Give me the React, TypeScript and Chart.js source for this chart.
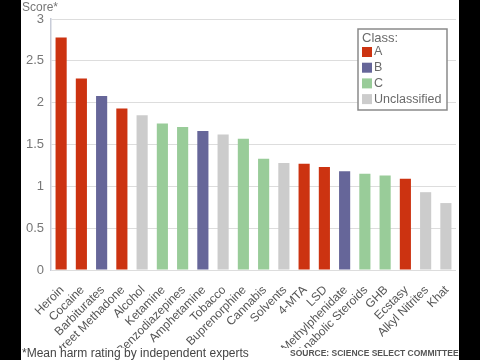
import React, { useEffect, useRef } from "react";
import { Chart, registerables } from "chart.js";

Chart.register(...registerables);

const drugs = [
  "Heroin", "Cocaine", "Barbiturates", "Street Methadone", "Alcohol",
  "Ketamine", "Benzodiazepines", "Amphetamine", "Tobacco", "Buprenorphine",
  "Cannabis", "Solvents", "4-MTA", "LSD", "Methylphenidate",
  "Anabolic Steroids", "GHB", "Ecstasy", "Alkyl Nitrites", "Khat",
];
const scores = [
  2.78, 2.29, 2.08, 1.93, 1.85, 1.75, 1.71, 1.66, 1.62, 1.57,
  1.33, 1.28, 1.27, 1.23, 1.18, 1.15, 1.13, 1.09, 0.93, 0.80,
];
const drugClass = [
  "A", "A", "B", "A", "Unclassified", "C", "C", "B", "Unclassified", "C",
  "C", "Unclassified", "A", "A", "B", "C", "C", "A", "Unclassified", "Unclassified",
];
const classNames = ["A", "B", "C", "Unclassified"];
const classColors = ["#cc3311", "#666699", "#99cc99", "#cccccc"];
const yTicks = [0, 0.5, 1, 1.5, 2, 2.5, 3];
const yTitle = "Score*";
const legendTitle = "Class:";
const footNote = "*Mean harm rating by independent experts";
const sourceNote = "SOURCE: SCIENCE SELECT COMMITTEE";

const FONT = "'Liberation Sans', Arial, sans-serif";

const framePlugin = {
  id: "frame",
  beforeDraw(chart: any) {
    const ctx = chart.ctx;
    ctx.save();
    ctx.fillStyle = "#ffffff";
    ctx.fillRect(0, 0, chart.width, chart.height);
    ctx.restore();
  },
  afterDraw(chart: any) {
    const ctx = chart.ctx;
    ctx.save();
    ctx.fillStyle = "#777777";
    ctx.font = `12px ${FONT}`;
    ctx.textBaseline = "middle";
    ctx.textAlign = "left";
    ctx.fillText(yTitle, 22, 8);
    const lx = 358, ly = 29, lw = 89, lh = 81;
    ctx.strokeStyle = "#8a8a8a";
    ctx.lineWidth = 1.5;
    ctx.fillStyle = "#ffffff";
    ctx.beginPath();
    ctx.rect(lx, ly, lw, lh);
    ctx.fill();
    ctx.stroke();
    ctx.fillStyle = "#6a6a6a";
    ctx.font = `13px ${FONT}`;
    ctx.fillText(legendTitle, lx + 4, ly + 9);
    classNames.forEach((name, i) => {
      const cy = ly + 23 + i * 15.7;
      ctx.fillStyle = classColors[i];
      ctx.fillRect(lx + 4, cy - 5, 10, 10);
      ctx.fillStyle = "#6a6a6a";
      ctx.font = `12.5px ${FONT}`;
      ctx.fillText(name, lx + 16, cy);
    });
    ctx.fillStyle = "#444444";
    ctx.font = `12px ${FONT}`;
    ctx.fillText(footNote, 22, 354);
    ctx.fillStyle = "#555555";
    ctx.font = `bold 8.5px ${FONT}`;
    ctx.fillText(sourceNote, 290, 354);
    ctx.fillStyle = "#000000";
    ctx.fillRect(0, 0, 21, chart.height);
    ctx.fillRect(459, 0, chart.width - 459, chart.height);
    ctx.restore();
  },
};

export default function App() {
  const ref = useRef<HTMLCanvasElement | null>(null);
  useEffect(() => {
    if (!ref.current) return;
    const chart = new Chart(ref.current, {
      type: "bar",
      data: {
        labels: drugs,
        datasets: [
          {
            data: scores,
            backgroundColor: drugClass.map((c) => classColors[classNames.indexOf(c)]),
            barPercentage: 0.55,
            categoryPercentage: 1,
          },
        ],
      },
      options: {
        responsive: false,
        animation: false,
        layout: { padding: { left: 21, right: 24, top: 19, bottom: 12 } },
        plugins: { legend: { display: false }, tooltip: { enabled: false } },
        scales: {
          x: {
            grid: { display: false },
            border: { display: false },
            ticks: {
              minRotation: 45,
              maxRotation: 45,
              padding: 5,
              labelOffset: 1,
              autoSkip: false,
              color: "#555555",
              font: { family: FONT, size: 12 },
            },
            afterFit(scale: any) {
              scale.height = 78;
              scale.paddingLeft = 0;
              scale.paddingRight = 0;
            },
          },
          y: {
            min: 0,
            max: 3,
            afterBuildTicks(scale: any) {
              scale.ticks = yTicks.map((v) => ({ value: v }));
            },
            grid: { color: "#dddddd", drawTicks: false, lineWidth: 1 },
            border: { display: true, color: "#c8ccd8", width: 1.5 },
            ticks: {
              padding: 7,
              color: "#777777",
              font: { family: FONT, size: 13 },
              callback: (v: any) => String(v),
            },
            afterFit(scale: any) {
              scale.width = 30;
            },
          },
        },
      },
      plugins: [framePlugin],
    });
    return () => chart.destroy();
  }, []);
  return (
    <div style={{ position: "absolute", left: 0, top: 0, width: 480, height: 360 }}>
      <canvas ref={ref} width={480} height={360} />
    </div>
  );
}
